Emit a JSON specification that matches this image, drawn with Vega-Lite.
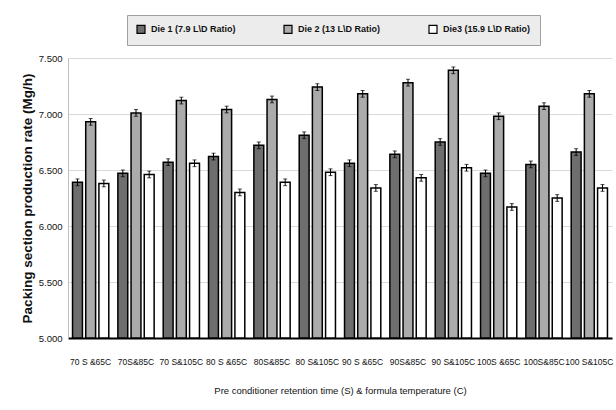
{
  "$schema": "https://vega.github.io/schema/vega-lite/v6.json",
  "width": 544,
  "height": 280,
  "autosize": {"type": "none"},
  "padding": {"left": 68, "top": 58, "right": 4, "bottom": 72},
  "background": "white",
  "config": {"font": "Liberation Sans", "view": {"stroke": null}},
  "data": {"values": [
    {"cond": "70 S &65C", "die": "Die 1 (7.9 L\\D Ratio)", "rate": 6.39, "lo": 6.36, "hi": 6.42},
    {"cond": "70 S &65C", "die": "Die 2 (13 L\\D Ratio)", "rate": 6.93, "lo": 6.90, "hi": 6.96},
    {"cond": "70 S &65C", "die": "Die3 (15.9 L\\D Ratio)", "rate": 6.38, "lo": 6.35, "hi": 6.41},
    {"cond": "70S&85C", "die": "Die 1 (7.9 L\\D Ratio)", "rate": 6.47, "lo": 6.44, "hi": 6.50},
    {"cond": "70S&85C", "die": "Die 2 (13 L\\D Ratio)", "rate": 7.01, "lo": 6.98, "hi": 7.04},
    {"cond": "70S&85C", "die": "Die3 (15.9 L\\D Ratio)", "rate": 6.46, "lo": 6.43, "hi": 6.49},
    {"cond": "70 S&105C", "die": "Die 1 (7.9 L\\D Ratio)", "rate": 6.57, "lo": 6.54, "hi": 6.60},
    {"cond": "70 S&105C", "die": "Die 2 (13 L\\D Ratio)", "rate": 7.12, "lo": 7.09, "hi": 7.15},
    {"cond": "70 S&105C", "die": "Die3 (15.9 L\\D Ratio)", "rate": 6.56, "lo": 6.53, "hi": 6.59},
    {"cond": "80 S &65C", "die": "Die 1 (7.9 L\\D Ratio)", "rate": 6.62, "lo": 6.59, "hi": 6.65},
    {"cond": "80 S &65C", "die": "Die 2 (13 L\\D Ratio)", "rate": 7.04, "lo": 7.01, "hi": 7.07},
    {"cond": "80 S &65C", "die": "Die3 (15.9 L\\D Ratio)", "rate": 6.30, "lo": 6.27, "hi": 6.33},
    {"cond": "80S&85C", "die": "Die 1 (7.9 L\\D Ratio)", "rate": 6.72, "lo": 6.69, "hi": 6.75},
    {"cond": "80S&85C", "die": "Die 2 (13 L\\D Ratio)", "rate": 7.13, "lo": 7.10, "hi": 7.16},
    {"cond": "80S&85C", "die": "Die3 (15.9 L\\D Ratio)", "rate": 6.39, "lo": 6.36, "hi": 6.42},
    {"cond": "80 S&105C", "die": "Die 1 (7.9 L\\D Ratio)", "rate": 6.81, "lo": 6.78, "hi": 6.84},
    {"cond": "80 S&105C", "die": "Die 2 (13 L\\D Ratio)", "rate": 7.24, "lo": 7.21, "hi": 7.27},
    {"cond": "80 S&105C", "die": "Die3 (15.9 L\\D Ratio)", "rate": 6.48, "lo": 6.45, "hi": 6.51},
    {"cond": "90 S &65C", "die": "Die 1 (7.9 L\\D Ratio)", "rate": 6.56, "lo": 6.53, "hi": 6.59},
    {"cond": "90 S &65C", "die": "Die 2 (13 L\\D Ratio)", "rate": 7.18, "lo": 7.15, "hi": 7.21},
    {"cond": "90 S &65C", "die": "Die3 (15.9 L\\D Ratio)", "rate": 6.34, "lo": 6.31, "hi": 6.37},
    {"cond": "90S&85C", "die": "Die 1 (7.9 L\\D Ratio)", "rate": 6.64, "lo": 6.61, "hi": 6.67},
    {"cond": "90S&85C", "die": "Die 2 (13 L\\D Ratio)", "rate": 7.28, "lo": 7.25, "hi": 7.31},
    {"cond": "90S&85C", "die": "Die3 (15.9 L\\D Ratio)", "rate": 6.43, "lo": 6.40, "hi": 6.46},
    {"cond": "90 S&105C", "die": "Die 1 (7.9 L\\D Ratio)", "rate": 6.75, "lo": 6.72, "hi": 6.78},
    {"cond": "90 S&105C", "die": "Die 2 (13 L\\D Ratio)", "rate": 7.39, "lo": 7.36, "hi": 7.42},
    {"cond": "90 S&105C", "die": "Die3 (15.9 L\\D Ratio)", "rate": 6.52, "lo": 6.49, "hi": 6.55},
    {"cond": "100S &65C", "die": "Die 1 (7.9 L\\D Ratio)", "rate": 6.47, "lo": 6.44, "hi": 6.50},
    {"cond": "100S &65C", "die": "Die 2 (13 L\\D Ratio)", "rate": 6.98, "lo": 6.95, "hi": 7.01},
    {"cond": "100S &65C", "die": "Die3 (15.9 L\\D Ratio)", "rate": 6.17, "lo": 6.14, "hi": 6.20},
    {"cond": "100S&85C", "die": "Die 1 (7.9 L\\D Ratio)", "rate": 6.55, "lo": 6.52, "hi": 6.58},
    {"cond": "100S&85C", "die": "Die 2 (13 L\\D Ratio)", "rate": 7.07, "lo": 7.04, "hi": 7.10},
    {"cond": "100S&85C", "die": "Die3 (15.9 L\\D Ratio)", "rate": 6.25, "lo": 6.22, "hi": 6.28},
    {"cond": "100 S&105C", "die": "Die 1 (7.9 L\\D Ratio)", "rate": 6.66, "lo": 6.63, "hi": 6.69},
    {"cond": "100 S&105C", "die": "Die 2 (13 L\\D Ratio)", "rate": 7.18, "lo": 7.15, "hi": 7.21},
    {"cond": "100 S&105C", "die": "Die3 (15.9 L\\D Ratio)", "rate": 6.34, "lo": 6.31, "hi": 6.37}
  ]},
  "encoding": {
    "x": {
      "field": "cond", "type": "nominal", "sort": null,
      "scale": {"paddingInner": 0.2, "paddingOuter": 0.1},
      "axis": {
        "title": "Pre conditioner retention time (S) & formula temperature (C)",
        "labelAngle": 0, "ticks": false, "domainColor": "black", "domainWidth": 2,
        "labelPadding": 19, "labelFontSize": 8.5, "labelColor": "#111",
        "titleFontSize": 9.5, "titleFontWeight": "normal", "titleColor": "#111", "titlePadding": 20
      }
    },
    "xOffset": {"field": "die", "type": "nominal", "sort": null, "scale": {"paddingInner": 0.25, "paddingOuter": 0}}
  },
  "layer": [
    {
      "mark": {"type": "bar", "stroke": "black", "strokeWidth": 1.5},
      "encoding": {
        "y": {
          "field": "rate", "type": "quantitative",
          "title": "Packing section production rate (Mg/h)",
          "scale": {"domain": [5, 7.5], "nice": false, "zero": false},
          "axis": {
            "values": [5, 5.25, 5.5, 5.75, 6, 6.25, 6.5, 6.75, 7, 7.25, 7.5],
            "format": ".3f", "ticks": false, "domainColor": "#bfbfbf",
            "gridColor": "#d9d9d9", "labelFontSize": 9.5, "labelColor": "#111", "labelPadding": 6,
            "titleFont": "Liberation Sans", "titleFontWeight": "bold", "titleFontSize": 13.5,
            "titleColor": "#111", "titlePadding": 4
          }
        },
        "y2": {"datum": 5},
        "fill": {
          "field": "die", "type": "nominal", "sort": null,
          "scale": {"range": ["#6e6e6e", "#ababab", "#ffffff"]},
          "legend": {
            "orient": "none", "legendX": 59, "legendY": -43, "direction": "horizontal",
            "title": null, "fillColor": "#ececec", "strokeColor": "#a0a0a0", "padding": 9,
            "columnPadding": 45, "symbolType": "square", "symbolSize": 64,
            "symbolStrokeColor": "black", "symbolStrokeWidth": 1.2,
            "labelFont": "Liberation Sans", "labelFontWeight": "bold", "labelFontSize": 9,
            "labelColor": "#111", "labelOffset": 5
          }
        }
      }
    },
    {
      "mark": {"type": "rule", "color": "black", "strokeWidth": 1},
      "encoding": {
        "y": {"field": "lo", "type": "quantitative", "title": "Packing section production rate (Mg/h)"},
        "y2": {"field": "hi"}
      }
    },
    {
      "mark": {"type": "tick", "color": "black", "size": 4, "thickness": 1},
      "encoding": {"y": {"field": "lo", "type": "quantitative", "title": "Packing section production rate (Mg/h)"}}
    },
    {
      "mark": {"type": "tick", "color": "black", "size": 4, "thickness": 1},
      "encoding": {"y": {"field": "hi", "type": "quantitative", "title": "Packing section production rate (Mg/h)"}}
    }
  ]
}
